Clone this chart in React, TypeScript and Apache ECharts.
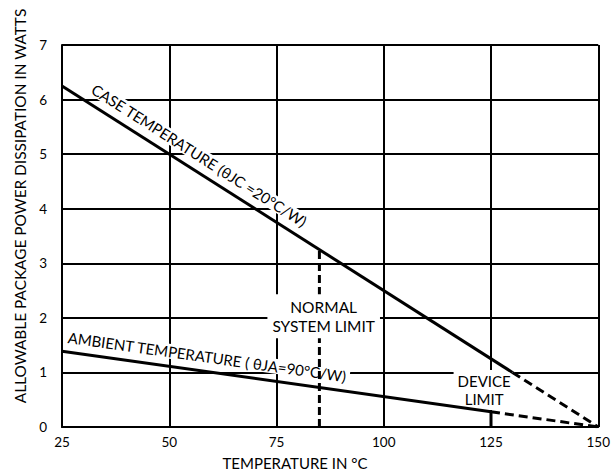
import React, { useEffect, useRef } from "react";
import * as echarts from "echarts";

// Axis ranges / ticks
const xMin = 25;
const xMax = 150;
const xStep = 25;
const yMin = 0;
const yMax = 7;
const yStep = 1;

// Derating curves (T in °C, P in watts)
const caseSolid = [
  [25, 6.25],
  [130, 1.0],
];
const caseDashed = [
  [130, 1.0],
  [150, 0],
];
const ambientSolid = [
  [25, 1.39],
  [125, 0.28],
];
const ambientDashed = [
  [125, 0.28],
  [150, 0],
];
const normalLimit = [
  [85, 0],
  [85, 3.25],
];
const deviceLimit = [
  [125, 0],
  [125, 0.28],
];

// Annotation texts and their anchor points (data coordinates)
const caseText = "CASE TEMPERATURE (θJC =20°C/W)";
const caseAnchor = [57, 4.98];
const ambientText = "AMBIENT TEMPERATURE ( θJA=90°C/W)";
const ambientAnchor = [58.8, 1.29];
const normalText = "NORMAL\nSYSTEM LIMIT";
const normalAnchor = [86, 2.03];
const deviceText = "DEVICE\nLIMIT";
const deviceAnchor = [123.4, 0.68];

const xName = "TEMPERATURE IN °C";
const yName = "ALLOWABLE PACKAGE POWER DISSIPATION IN WATTS";

const FONT = "Lato";

export default function App() {
  const ref = useRef<HTMLDivElement>(null);

  useEffect(() => {
    if (!ref.current) return;
    const chart = echarts.init(ref.current, null, { renderer: "svg" });

    const lineSeries = (data: number[][], dashed: boolean | number[]) => ({
      type: "line",
      data,
      symbol: "none",
      silent: true,
      z: 3,
      lineStyle: {
        color: "#000",
        width: 3,
        type: dashed ? (Array.isArray(dashed) ? dashed : [9, 5]) : "solid",
        cap: "butt",
      },
    });

    chart.setOption({
      animation: false,
      backgroundColor: "#fff",
      grid: { left: 62, right: 11, top: 45, bottom: 48, containLabel: false },
      xAxis: {
        type: "value",
        min: xMin,
        max: xMax,
        interval: xStep,
        axisLine: { show: true, lineStyle: { color: "#000", width: 2 } },
        axisTick: { show: false },
        axisLabel: {
          color: "#000",
          fontSize: 13.5,
          fontFamily: FONT,
          margin: 8,
        },
        splitLine: { show: true, lineStyle: { color: "#000", width: 2 } },
      },
      yAxis: {
        type: "value",
        min: yMin,
        max: yMax,
        interval: yStep,
        axisLine: { show: true, lineStyle: { color: "#000", width: 2 } },
        axisTick: { show: false },
        axisLabel: {
          color: "#000",
          fontSize: 13.5,
          fontFamily: FONT,
          margin: 15,
        },
        splitLine: { show: true, lineStyle: { color: "#000", width: 2 } },
      },
      series: [
        lineSeries(caseSolid, false),
        lineSeries(caseDashed, true),
        lineSeries(ambientSolid, false),
        lineSeries(ambientDashed, true),
        lineSeries(normalLimit, [8, 4]),
        lineSeries(deviceLimit, false),
      ],
    });

    const px = (p: number[]) =>
      chart.convertToPixel({ gridIndex: 0 }, p) as number[];
    const angle = (seg: number[][]) => {
      const a = px(seg[0]);
      const b = px(seg[1]);
      return Math.atan2(-(b[1] - a[1]), b[0] - a[0]);
    };

    const label = (
      text: string,
      anchor: number[],
      rotation: number,
      z: number,
      extra: any = {}
    ) => {
      const p = px(anchor);
      return {
        type: "text",
        x: p[0],
        y: p[1],
        rotation,
        z,
        silent: true,
        style: {
          text,
          fill: "#000",
          fontSize: 15,
          fontFamily: FONT,
          align: "center",
          verticalAlign: "middle",
          backgroundColor: "#fff",
          padding: [0, 3],
          ...extra,
        },
      };
    };

    chart.setOption({
      graphic: [
        label(caseText, caseAnchor, angle(caseSolid), 1),
        label(ambientText, ambientAnchor, angle(ambientSolid), 1),
        label(normalText, normalAnchor, 0, 5, {
          lineHeight: 19,
          padding: [3, 5],
          fontSize: 15.5,
        }),
        label(deviceText, deviceAnchor, 0, 1, {
          lineHeight: 18,
          padding: [2, 4],
        }),
        {
          type: "text",
          x: 295,
          y: 463,
          silent: true,
          style: {
            text: xName,
            fill: "#000",
            fontSize: 15,
            fontFamily: FONT,
            align: "center",
            verticalAlign: "middle",
          },
        },
        {
          type: "text",
          x: 20,
          y: 206,
          rotation: Math.PI / 2,
          silent: true,
          style: {
            text: yName,
            fill: "#000",
            fontSize: 15.4,
            fontFamily: FONT,
            align: "center",
            verticalAlign: "middle",
          },
        },
      ],
    });

    return () => chart.dispose();
  }, []);

  return (
    <div
      ref={ref}
      style={{ position: "fixed", left: 0, top: 0, width: 613, height: 475 }}
    />
  );
}
